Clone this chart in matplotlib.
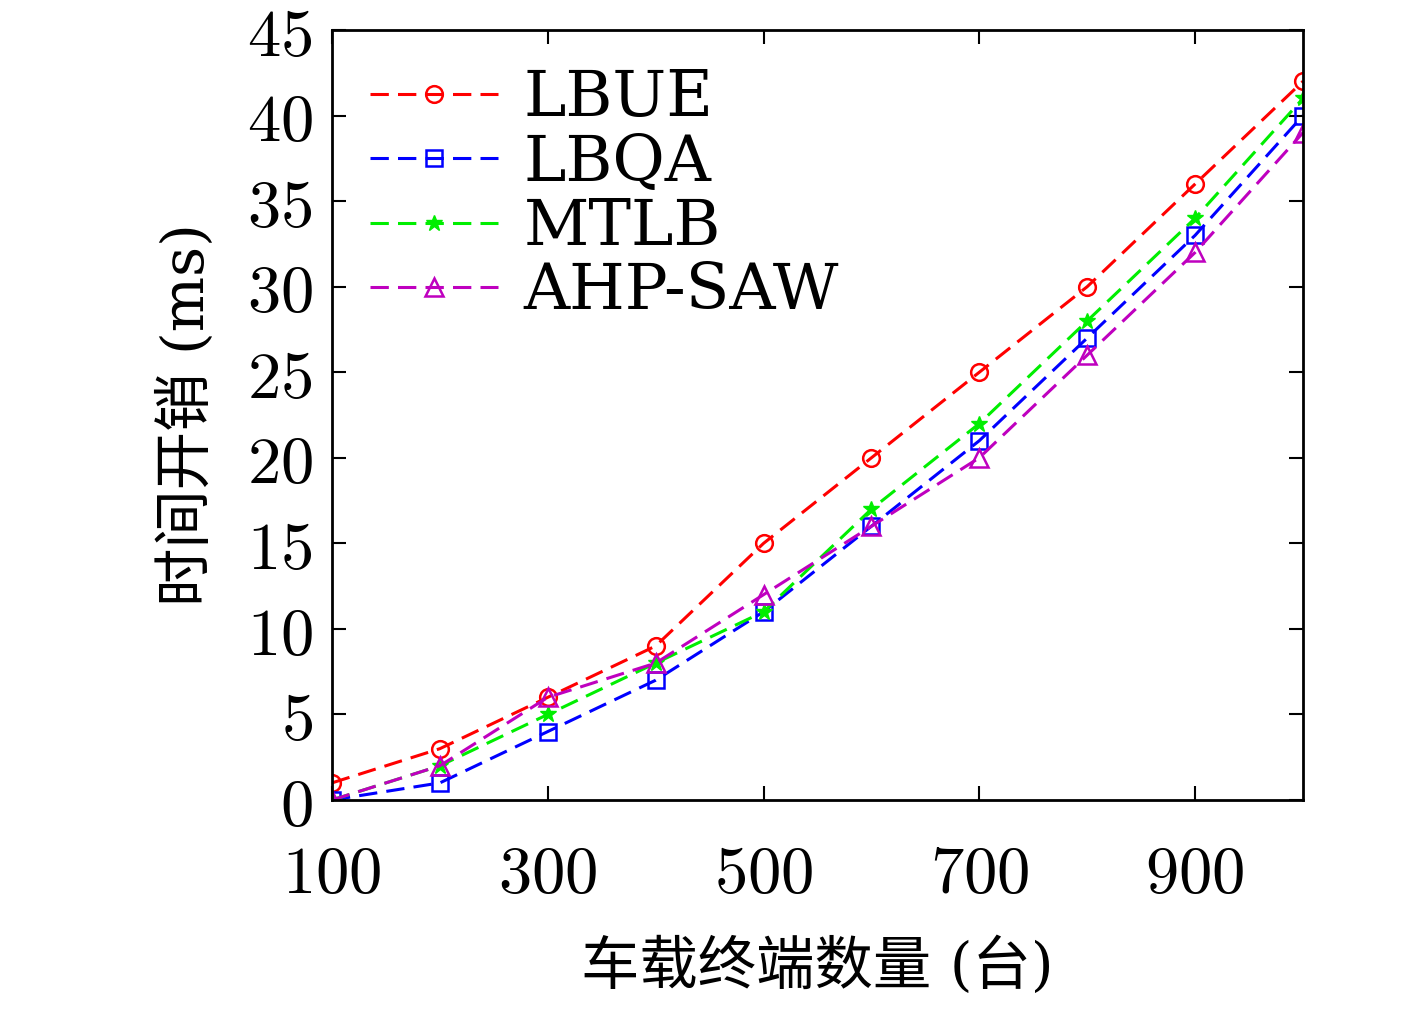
import numpy as np
import matplotlib.pyplot as plt

plt.rcParams['font.family'] = ['DejaVu Serif', 'Noto Sans CJK SC']
plt.rcParams['mathtext.fontset'] = 'cm'

x = [100, 200, 300, 400, 500, 600, 700, 800, 900, 1000]
lbue = [1, 3, 6, 9, 15, 20, 25, 30, 36, 42]
lbqa = [0, 1, 4, 7, 11, 16, 21, 27, 33, 40]
mtlb = [0, 2, 5, 8, 11, 17, 22, 28, 34, 41]
ahp = [0, 2, 6, 8, 12, 16, 20, 26, 32, 39]

fig = plt.figure(figsize=(14.17, 10.16), dpi=100)
ax = fig.add_axes([332/1417, 1-800/1016, (1303-332)/1417, (800-30)/1016])

dash = (0, (6, 3))
ax.plot(x, lbue, 'r-o', ls=dash, mfc='none', ms=12, mew=1.8, lw=2.2, label='LBUE')
ax.plot(x, lbqa, 'b-s', ls=dash, mfc='none', ms=11, mew=1.8, lw=2.2, label='LBQA')
ax.plot(x, mtlb, '-*', ls=dash, color='#00ee00', ms=12, lw=2.2, label='MTLB')
ax.plot(x, ahp, 'm-^', ls=dash, mfc='none', ms=13, mew=1.8, lw=2.2, label='AHP-SAW')

ax.set_xlim(100, 1000)
ax.set_ylim(0, 45)
ax.set_xticks([100, 300, 500, 700, 900])
ax.set_yticks(range(0, 46, 5))
ax.set_xticklabels([f'${v}$' for v in [100, 300, 500, 700, 900]])
ax.set_yticklabels([f'${v}$' for v in range(0, 46, 5)])
ax.tick_params(direction='in', top=True, right=True, length=10, width=1.5,
               labelsize=48)
ax.tick_params(axis='x', pad=30)
ax.tick_params(axis='y', pad=14)
for s in ax.spines.values():
    s.set_linewidth(2)

ax.set_xlabel('车载终端数量 (台)', fontsize=42, labelpad=22)
ax.set_ylabel('时间开销 (ms)', fontsize=42, labelpad=22)

leg = ax.legend(loc='upper left', fontsize=46, frameon=False,
                handlelength=2.0, handletextpad=0.4, labelspacing=0.05,
                borderaxespad=0.2)

fig.savefig('out.png', dpi=100)
